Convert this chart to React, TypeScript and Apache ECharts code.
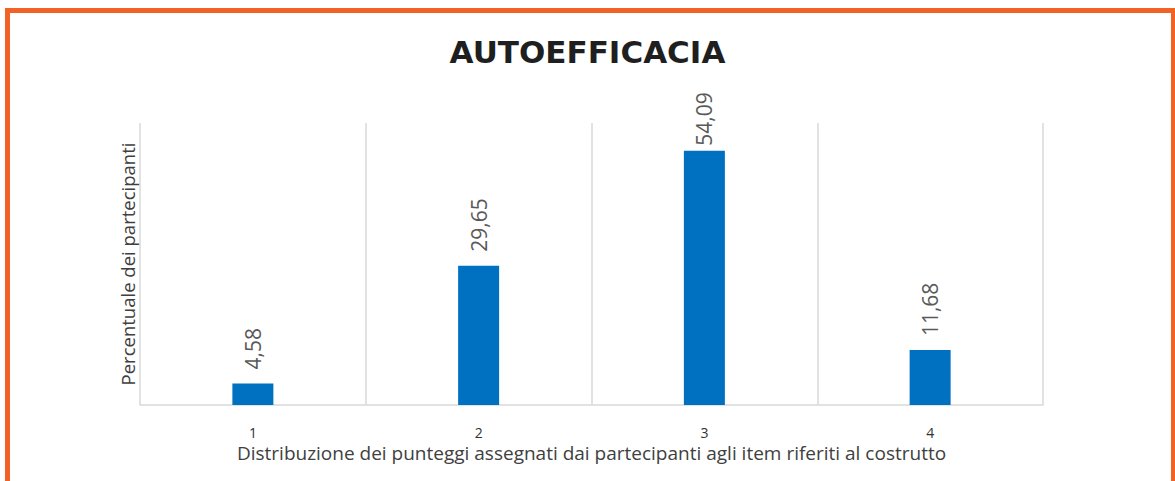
import React, { useEffect, useRef } from "react";
import * as echarts from "echarts";

const categories = ["1", "2", "3", "4"];
const values = [4.58, 29.65, 54.09, 11.68];
const titleText = "AUTOEFFICACIA";
const xName = "Distribuzione dei punteggi assegnati dai partecipanti agli item riferiti al costrutto";
const yName = "Percentuale dei partecipanti";

export default function App() {
  const ref = useRef<HTMLDivElement>(null);
  useEffect(() => {
    if (!ref.current) return;
    const chart = echarts.init(ref.current, null, { renderer: "svg" });
    const font = "'Open Sans', sans-serif";
    const maxIdx = values.indexOf(Math.max(...values));
    chart.setOption({
      animation: false,
      backgroundColor: "#ffffff",
      title: {
        text: titleText,
        left: "center",
        top: 31,
        textStyle: {
          fontFamily: "'DejaVu Sans', sans-serif",
          fontSize: 31,
          fontWeight: "bold",
          color: "#1f1f1f",
        },
      },
      graphic: [
        {
          type: "rect",
          shape: { x: 7.5, y: 10.5, width: 1166, height: 600 },
          style: { fill: "none", stroke: "#F26125", lineWidth: 5 },
          silent: true,
        },
      ],
      grid: { left: 140, right: 132, top: 123, bottom: 76 },
      xAxis: {
        type: "category",
        data: categories,
        name: xName,
        nameLocation: "middle",
        nameGap: 20,
        nameTextStyle: { fontFamily: font, fontSize: 19, color: "#404040" },
        axisLine: { show: true, lineStyle: { color: "#d9d9d9", width: 1.5 } },
        axisTick: { show: false },
        axisLabel: { fontFamily: font, fontSize: 14, color: "#333333", margin: 20 },
        splitLine: { show: true, lineStyle: { color: "#d9d9d9", width: 1.5 } },
      },
      yAxis: {
        type: "value",
        min: 0,
        max: 60,
        name: yName,
        nameLocation: "middle",
        nameGap: 3,
        nameTextStyle: { fontFamily: font, fontSize: 18.5, color: "#404040" },
        axisLine: { show: false },
        axisTick: { show: false },
        axisLabel: { show: false },
        splitLine: { show: false },
      },
      series: [
        {
          type: "bar",
          data: values.map((v, i) =>
            i === maxIdx ? { value: v, label: { distance: 5 } } : v
          ),
          barWidth: 41,
          itemStyle: { color: "#0070C0" },
          label: {
            show: true,
            position: "top",
            rotate: 90,
            align: "left",
            verticalAlign: "middle",
            distance: 14,
            fontFamily: font,
            fontSize: 21,
            color: "#595959",
            formatter: (p: any) => Number(p.value).toFixed(2).replace(".", ","),
          },
        },
      ],
    });
    return () => chart.dispose();
  }, []);
  return (
    <div
      ref={ref}
      style={{ position: "fixed", left: 0, top: 0, width: 1175, height: 481 }}
    />
  );
}
